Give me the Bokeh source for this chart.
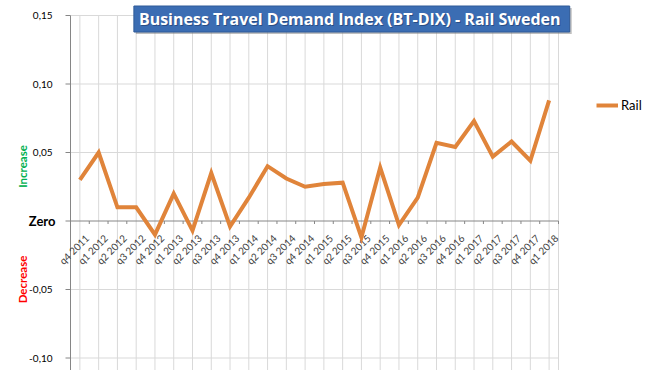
import math
from bokeh.plotting import figure
from bokeh.models import Range1d, Label, Legend, LegendItem
from bokeh.core.properties import value
from bokeh.embed import file_html
from bokeh.resources import INLINE

# ---- data ----
quarters = ["q4 2011",
            "q1 2012", "q2 2012", "q3 2012", "q4 2012",
            "q1 2013", "q2 2013", "q3 2013", "q4 2013",
            "q1 2014", "q2 2014", "q3 2014", "q4 2014",
            "q1 2015", "q2 2015", "q3 2015", "q4 2015",
            "q1 2016", "q2 2016", "q3 2016", "q4 2016",
            "q1 2017", "q2 2017", "q3 2017", "q4 2017",
            "q1 2018"]
rail = [0.030,
        0.050, 0.010, 0.010, -0.010,
        0.020, -0.007, 0.035, -0.004,
        0.017, 0.040, 0.031, 0.025,
        0.027, 0.028, -0.012, 0.039,
        -0.003, 0.017, 0.057, 0.054,
        0.073, 0.047, 0.058, 0.044,
        0.088]
y_ticks = [-0.10, -0.05, 0.0, 0.05, 0.10, 0.15]
y_tick_labels = ["-0,10", "-0,05", "Zero", "0,05", "0,10", "0,15"]
title_text = "Business Travel Demand  Index (BT-DIX) - Rail Sweden"
series_name = "Rail"
up_text, down_text = "Increase", "Decrease"

idx = list(range(len(quarters)))
n = len(quarters)

# ---- geometry: the frame fills the canvas; plot area is x in [-0.5, n-0.5] ----
W, H = 663, 370
PX_X = 18.769       # pixels per category
PX_Y = 1370.0       # pixels per unit of value
LEFT, TOP = 70, 15  # plot-area left / top in pixels
x0 = -0.5 - LEFT / PX_X
x1 = x0 + W / PX_X
ytop = max(y_ticks) + TOP / PX_Y
ybot = ytop - H / PX_Y

def dx(px):
    return x0 + px / PX_X

def dy(py):
    return ytop - py / PX_Y

p = figure(width=W, height=H, output_backend="svg", toolbar_location=None,
           x_range=Range1d(x0, x1), y_range=Range1d(ybot, ytop),
           x_axis_location=None, y_axis_location=None,
           min_border=0, min_border_left=0, min_border_right=0,
           min_border_top=0, min_border_bottom=0)
p.outline_line_color = None
p.background_fill_color = "white"
p.border_fill_color = "white"
p.xgrid.visible = False
p.ygrid.visible = False

GRID = "#D9D9D9"
AXIS = "#868686"
xa, xb = -0.5, n - 0.5
ymax = max(y_ticks)

# gridlines
p.segment(x0=idx, x1=idx, y0=[ybot] * n, y1=[ymax] * n, line_color=GRID, line_width=1)
grid_y = [t for t in y_ticks if t != 0]
p.segment(x0=[xa] * len(grid_y), x1=[xb] * len(grid_y), y0=grid_y, y1=grid_y,
          line_color=GRID, line_width=1)
# plot area right border
p.segment(x0=[xb], x1=[xb], y0=[ybot], y1=[ymax], line_color=GRID, line_width=1)

# value axis
p.segment(x0=[xa], x1=[xa], y0=[ybot], y1=[ymax], line_color=AXIS, line_width=1)
tick_len = 5 / PX_X
p.segment(x0=[xa - tick_len] * len(y_ticks), x1=[xa] * len(y_ticks), y0=y_ticks, y1=y_ticks,
          line_color=AXIS, line_width=1)
num_ticks = [t for t, l in zip(y_ticks, y_tick_labels) if t != 0]
num_labels = [l for t, l in zip(y_ticks, y_tick_labels) if t != 0]
p.text(x=[xa] * len(num_ticks), y=num_ticks, text=num_labels, x_offset=-18,
       text_align="right", text_baseline="middle", text_font=value("Lato"),
       text_font_size="10px", text_color="#000000")
zero_label = [l for t, l in zip(y_ticks, y_tick_labels) if t == 0]
p.text(x=[xa], y=[0], text=zero_label, x_offset=-15, text_align="right",
       text_baseline="middle", text_font=value("Lato"), text_font_style="bold",
       text_font_size="13px", text_color="#000000")

# category axis along zero
p.segment(x0=[xa], x1=[xb], y0=[0], y1=[0], line_color=AXIS, line_width=1)
bounds = [i + 0.5 for i in idx]
p.segment(x0=bounds, x1=bounds, y0=[0] * n, y1=[-3 / PX_Y] * n, line_color=AXIS, line_width=1)
p.text(x=idx, y=[0] * n, text=quarters, angle=math.pi / 4, text_align="right",
       text_baseline="top", x_offset=3, y_offset=11, text_font=value("Lato"),
       text_font_size="10px", text_color="#404040")

# series line
r = p.line(x=idx, y=rail, line_color="#E0843A", line_width=4, line_join="miter")

# Increase / Decrease
p.add_layout(Label(x=dx(22), y=dy(166), text=up_text, angle=math.pi / 2,
                   text_align="center", text_baseline="middle", text_font="Lato",
                   text_font_style="bold", text_font_size="11.5px", text_color="#00B050"))
p.add_layout(Label(x=dx(22), y=dy(279), text=down_text, angle=math.pi / 2,
                   text_align="center", text_baseline="middle", text_font="Lato",
                   text_font_style="bold", text_font_size="11.5px", text_color="#FF0000"))

# title box
cx, cy = dx(351.3), dy(18.5)
common = dict(text=title_text, text_align="center", text_baseline="middle",
              text_font="Open Sans", text_font_style="bold", text_font_size="16px")
p.add_layout(Label(x=cx, y=cy, x_offset=2, y_offset=-2, text_color="rgba(0,0,0,0)",
                   background_fill_color="#808080", background_fill_alpha=0.5,
                   padding=(5, 2), **common))
p.add_layout(Label(x=cx, y=cy, text_color="rgba(0,0,0,0)",
                   background_fill_color="#3B6DB3", border_line_color="#2F5A98",
                   padding=(5, 2), **common))
p.add_layout(Label(x=cx, y=cy, x_offset=1, y_offset=-1, text_color="#1F3864",
                   text_alpha=0.6, **common))
p.add_layout(Label(x=cx, y=cy, text_color="white", **common))

# legend
legend = Legend(items=[LegendItem(label=series_name, renderers=[r])], location=(596, 255),
                padding=0, margin=0, border_line_alpha=0, background_fill_alpha=0,
                glyph_width=22, glyph_height=20, label_standoff=3,
                label_text_font="Lato", label_text_font_size="13px", label_text_color="#000000")
p.add_layout(legend)

open("out.html", "w").write(file_html(p, INLINE))
